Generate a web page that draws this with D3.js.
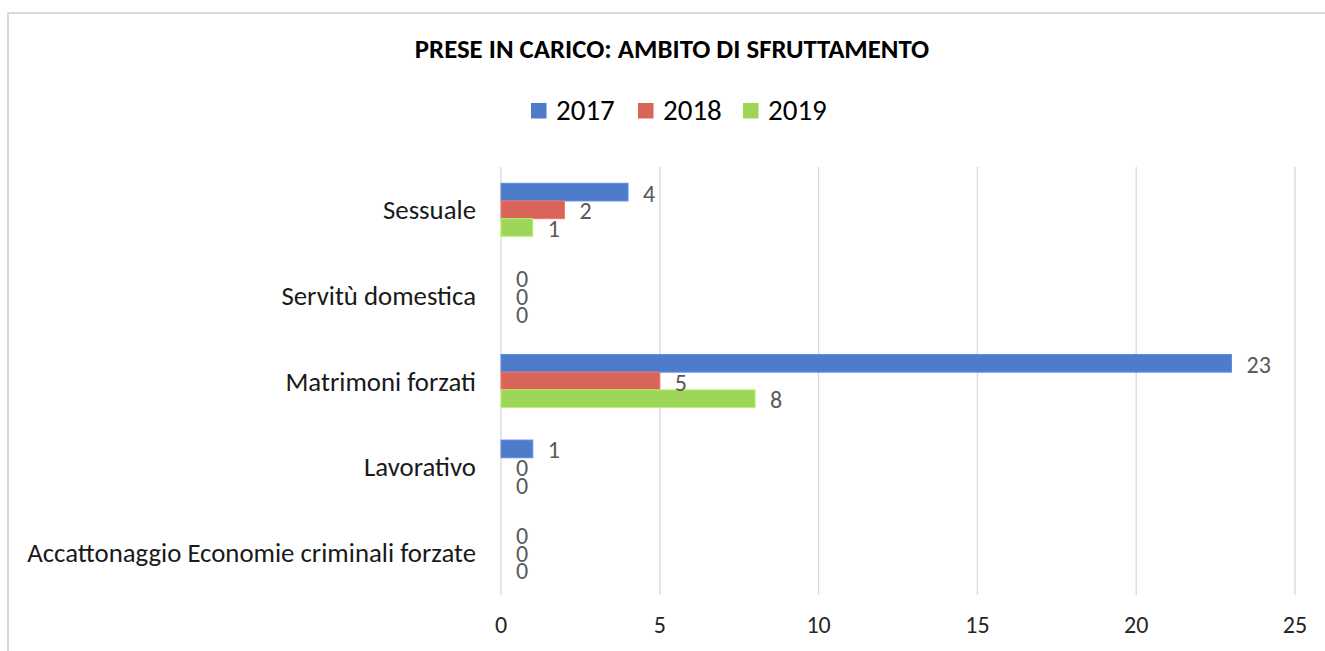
<!DOCTYPE html>
<html>
<head>
<meta charset="utf-8">
<script src="https://cdn.jsdelivr.net/npm/d3@7"></script>
<style>
  html, body { margin: 0; padding: 0; background: #fff; }
  svg { display: block; font-family: Carlito, "Open Sans", sans-serif; }
</style>
</head>
<body>
<div id="chart"></div>
<script>
// dati
const categories = ["Sessuale", "Servitù domestica", "Matrimoni forzati", "Lavorativo", "Accattonaggio Economie criminali forzate"];
const years = ["2017", "2018", "2019"];
const values2017 = [4, 0, 23, 1, 0];
const values2018 = [2, 0, 5, 0, 0];
const values2019 = [1, 0, 8, 0, 0];
const xTicks = [0, 5, 10, 15, 20, 25];
const colors = ["#4e7bca", "#d9645a", "#9dd55b"];

const width = 1325, height = 651;
const plot = { left: 501, right: 1295, top: 167, bottom: 595 };

const svg = d3.select("#chart")
    .append("svg")
    .attr("width", width)
    .attr("height", height);

// cornice
svg.append("rect")
    .attr("x", 8).attr("y", 13)
    .attr("width", 1340).attr("height", 660)
    .attr("fill", "none")
    .attr("stroke", "#d9d9d9")
    .attr("stroke-width", 2);

// titolo
svg.append("text")
    .attr("x", 672).attr("y", 58)
    .attr("text-anchor", "middle")
    .attr("fill", "#000")
    .style("font-size", "26.8px")
    .style("font-weight", "700")
    .text("PRESE IN CARICO: AMBITO DI SFRUTTAMENTO");

// legenda
const legendX = [531, 638, 743];
const legend = svg.append("g");
years.forEach((y, i) => {
    legend.append("rect")
        .attr("x", legendX[i]).attr("y", 103)
        .attr("width", 15.5).attr("height", 15.5)
        .attr("fill", colors[i]);
    legend.append("text")
        .attr("x", legendX[i] + 25).attr("y", 120)
        .attr("fill", "#000")
        .style("font-size", "29px")
        .text(y);
});

const x = d3.scaleLinear().domain([0, 25]).range([plot.left, plot.right]);
const yBand = d3.scaleBand().domain(categories).range([plot.top, plot.bottom]).paddingInner(0.38).paddingOuter(0.19);
const ySub = d3.scaleBand().domain(years).range([0, yBand.bandwidth()]);

// griglia
svg.append("g")
    .selectAll("line")
    .data(xTicks)
    .enter()
    .append("line")
    .attr("x1", d => x(d)).attr("x2", d => x(d))
    .attr("y1", plot.top).attr("y2", plot.bottom)
    .attr("stroke", "#d9d9d9")
    .attr("stroke-width", 1.3);

// etichette asse x
svg.append("g")
    .selectAll("text")
    .data(xTicks)
    .enter()
    .append("text")
    .attr("x", d => x(d))
    .attr("y", 633)
    .attr("text-anchor", "middle")
    .attr("fill", "#262626")
    .style("font-size", "24px")
    .text(d => d);

// etichette categorie
svg.append("g")
    .selectAll("text")
    .data(categories)
    .enter()
    .append("text")
    .attr("x", 476)
    .attr("y", d => yBand(d) + yBand.bandwidth() / 2)
    .attr("text-anchor", "end")
    .attr("dominant-baseline", "central")
    .attr("fill", "#1a1a1a")
    .style("font-size", "26.8px")
    .text(d => d);

const series = [values2017, values2018, values2019];
const rows = [];
series.forEach((vals, s) => {
    vals.forEach((v, c) => rows.push({ cat: categories[c], year: years[s], s, v }));
});

// barre
svg.append("g")
    .selectAll("rect")
    .data(rows)
    .enter()
    .append("rect")
    .attr("x", x(0))
    .attr("y", d => yBand(d.cat) + ySub(d.year))
    .attr("width", d => x(d.v) - x(0))
    .attr("height", ySub.bandwidth())
    .attr("fill", d => colors[d.s])
    .attr("stroke", d => d3.color(colors[d.s]).brighter(0.4))
    .attr("stroke-width", d => d.v > 0 ? 1 : 0);

// etichette dati
svg.append("g")
    .selectAll("text")
    .data(rows)
    .enter()
    .append("text")
    .attr("x", d => x(d.v) + 15)
    .attr("y", d => yBand(d.cat) + ySub(d.year) + ySub.bandwidth() / 2 + 1)
    .attr("dominant-baseline", "central")
    .attr("fill", "#595959")
    .style("font-size", "24px")
    .text(d => d.v);
</script>
</body>
</html>
